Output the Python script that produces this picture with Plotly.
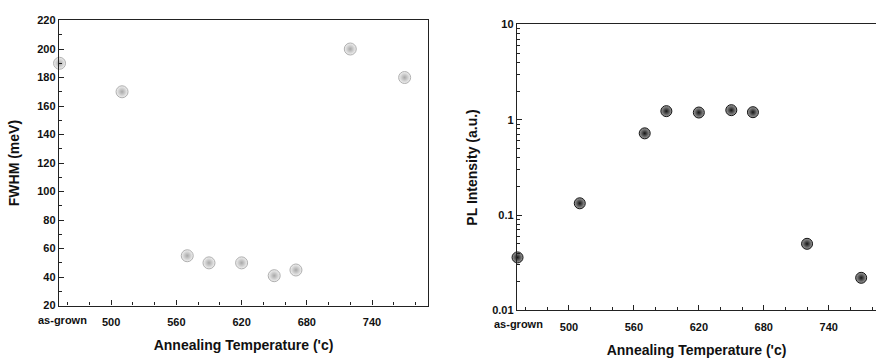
import plotly.graph_objects as go

# Annealing series: x = annealing temperature (°C); as-grown sample sits at the axis origin
fwhm_temp = [452.5, 510, 570, 590, 620, 650, 670, 720, 770]
fwhm_mev = [190, 170, 55, 50, 50, 41, 45, 200, 180]

pl_temp = [452.5, 510, 570, 590, 620, 650, 670, 720, 770]
pl_intensity = [0.036, 0.133, 0.72, 1.23, 1.19, 1.26, 1.20, 0.050, 0.022]

x_tickvals = [500, 560, 620, 680, 740]
x_ticktext = ["500", "560", "620", "680", "740"]
asgrown_label = "as-grown"
asgrown_pos = [455, 453]

fwhm_ticks = [20, 40, 60, 80, 100, 120, 140, 160, 180, 200, 220]
pl_tickvals = [0.01, 0.1, 1, 10]
pl_ticktext = ["0.01", "0.1", "1", "10"]
pl_minor = [m * d for d in (0.01, 0.1, 1) for m in range(2, 10)]

FONT = "Liberation Sans"
tick_font = dict(family=FONT, size=11, color="#111", weight="bold")
title_font = dict(family=FONT, size=14, color="#111", weight="bold")

fig = go.Figure()

fig.add_trace(go.Scatter(
    x=fwhm_temp, y=fwhm_mev, mode="markers", xaxis="x", yaxis="y",
    cliponaxis=False,
    marker=dict(size=12, color="#f2f2f2", symbol="circle",
                gradient=dict(type="radial", color="#a8a8a8"),
                line=dict(color="#b0b0b0", width=1)),
    showlegend=False,
))

fig.add_trace(go.Scatter(
    x=pl_temp, y=pl_intensity, mode="markers", xaxis="x2", yaxis="y2",
    cliponaxis=False,
    marker=dict(size=11, color="#a0a0a0", symbol="circle",
                gradient=dict(type="radial", color="#141414"),
                line=dict(color="#141414", width=1)),
    showlegend=False,
))

axis_common = dict(
    showline=True, linecolor="#222", linewidth=1.4,
    ticks="inside", tickcolor="#222", ticklen=5, tickwidth=1.2,
    showgrid=False, zeroline=False, tickfont=tick_font,
)

fig.update_layout(
    width=876, height=359,
    margin=dict(l=0, r=0, t=0, b=0),
    paper_bgcolor="white", plot_bgcolor="white",
    xaxis=dict(
        **axis_common, domain=[59 / 876, 428 / 876], range=[452, 791.5],
        anchor="y", mirror=True, ticklabelstandoff=6,
        tickmode="array", tickvals=x_tickvals, ticktext=x_ticktext,
        minor=dict(dtick=20, tick0=0, ticks="inside", ticklen=3, tickcolor="#222"),
        title=dict(text="Annealing Temperature ('c)", font=title_font, standoff=13),
    ),
    yaxis=dict(
        **axis_common, domain=[1 - 310 / 359, 1 - 15 / 359], range=[20, 220],
        anchor="x", mirror=True,
        tickmode="array", tickvals=fwhm_ticks,
        minor=dict(dtick=10, tick0=0, ticks="inside", ticklen=3, tickcolor="#222"),
        title=dict(text="FWHM (meV)", font=title_font, standoff=14),
    ),
    xaxis2=dict(
        **axis_common, domain=[517 / 876, 1.0], range=[452, 783.7],
        anchor="y2", mirror=True, ticklabelstandoff=6,
        tickmode="array", tickvals=x_tickvals, ticktext=x_ticktext,
        minor=dict(dtick=20, tick0=0, ticks="inside", ticklen=3, tickcolor="#222"),
        title=dict(text="Annealing Temperature ('c)", font=title_font, standoff=13),
    ),
    yaxis2=dict(
        **axis_common, domain=[1 - 315 / 359, 1 - 19 / 359], type="log",
        range=[-2, 1], anchor="x2", mirror=False,
        tickmode="array", tickvals=pl_tickvals, ticktext=pl_ticktext,
        minor=dict(tickmode="array", tickvals=pl_minor, ticks="inside",
                   ticklen=3, tickcolor="#222", showgrid=False),
        title=dict(text="PL Intensity (a.u.)", font=title_font, standoff=11),
    ),
)

# "as-grown" label beneath each panel's origin
for pos, xr, yr in zip(asgrown_pos, ("x", "x2"), ("y domain", "y2 domain")):
    fig.add_annotation(x=pos, y=0, xref=xr, yref=yr, yanchor="top",
                       yshift=-6, text=asgrown_label, showarrow=False,
                       font=tick_font)

fig.write_html("out.html")
